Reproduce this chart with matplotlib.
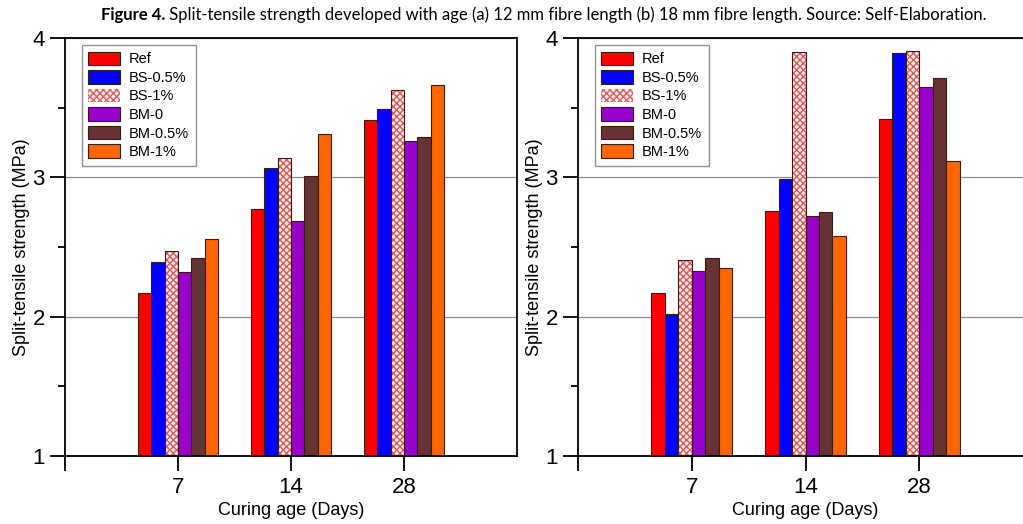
import matplotlib
matplotlib.use("Agg")
import matplotlib.pyplot as plt
import numpy as np

# curing ages (x categories) and mix labels
ages = ["7", "14", "28"]
mixes = ["Ref", "BS-0.5%", "BS-1%", "BM-0", "BM-0.5%", "BM-1%"]

# (a) 12 mm fibre length, MPa
ref_12 = [2.17, 2.77, 3.41]
bs05_12 = [2.39, 3.07, 3.49]
bs1_12 = [2.47, 3.14, 3.63]
bm0_12 = [2.32, 2.69, 3.26]
bm05_12 = [2.42, 3.01, 3.29]
bm1_12 = [2.56, 3.31, 3.66]

# (b) 18 mm fibre length, MPa
ref_18 = [2.17, 2.76, 3.42]
bs05_18 = [2.02, 2.99, 3.89]
bs1_18 = [2.41, 3.90, 3.91]
bm0_18 = [2.33, 2.72, 3.65]
bm05_18 = [2.42, 2.75, 3.71]
bm1_18 = [2.35, 2.58, 3.12]

colors = ["#ff0000", "#0000ff", None, "#9900cc", "#663333", "#ff6600"]
EDGE = "#3a1a10"
TICK_FONT = ["Liberation Sans Narrow", "Liberation Sans", "DejaVu Sans"]
LABEL_FONT = ["Liberation Sans", "DejaVu Sans"]

plt.rcParams["hatch.linewidth"] = 1.0


def draw_panel(ax, series):
    x = np.arange(1, len(ages) + 1)
    w = 0.118
    ax.set_axisbelow(True)
    ax.yaxis.grid(True, color="#888888", linewidth=0.9)
    for i, (name, vals) in enumerate(zip(mixes, series)):
        pos = x + (i - 2.5) * w
        vals = np.array(vals)
        if colors[i] is None:
            # checkered fill, then the dark outline on top
            ax.bar(pos, vals - 1, w, bottom=1, color="#fbeaea", edgecolor="#d85c5c",
                   hatch="xxxxx", linewidth=0, label=name, zorder=2)
            ax.bar(pos, vals - 1, w, bottom=1, fill=False, edgecolor=EDGE,
                   linewidth=0.8, zorder=3)
        else:
            ax.bar(pos, vals - 1, w, bottom=1, color=colors[i], edgecolor=EDGE,
                   linewidth=0.8, label=name, zorder=2)

    ax.set_xlim(0, 4)
    ax.set_ylim(1, 4)
    ax.set_xticks([0, 1, 2, 3])
    ax.set_xticklabels([""] + ages)
    ax.set_yticks([1, 2, 3, 4])
    ax.set_yticks([1.5, 2.5, 3.5], minor=True)
    ax.tick_params(axis="both", which="major", direction="out", length=11, width=1.3)
    ax.tick_params(axis="y", which="minor", direction="out", length=5, width=1.3)
    ax.tick_params(axis="x", pad=4)
    for lab in ax.get_xticklabels() + ax.get_yticklabels():
        lab.set_family(TICK_FONT)
        lab.set_fontsize(16)
    for s in ax.spines.values():
        s.set_linewidth(1.3)

    ax.set_xlabel("Curing age (Days)", family=LABEL_FONT, fontsize=13, labelpad=3)
    ax.set_ylabel("Split-tensile strength (MPa)", family=LABEL_FONT, fontsize=13, labelpad=2)

    leg = ax.legend(loc="upper left", bbox_to_anchor=(0.037, 0.983), borderaxespad=0,
                    prop={"family": LABEL_FONT, "size": 10.5}, fancybox=False,
                    handlelength=2.2, handleheight=1.05, labelspacing=0.26,
                    handletextpad=0.6, borderpad=0.45)
    leg.get_frame().set_edgecolor("#777777")
    leg.get_frame().set_linewidth(1.0)


fig = plt.figure(figsize=(10.23, 5.24), dpi=100)
ax1 = fig.add_axes([65 / 1023, 68 / 524, 452 / 1023, 418 / 524])
ax2 = fig.add_axes([578 / 1023, 68 / 524, 455 / 1023, 418 / 524])

draw_panel(ax1, [ref_12, bs05_12, bs1_12, bm0_12, bm05_12, bm1_12])
draw_panel(ax2, [ref_18, bs05_18, bs1_18, bm0_18, bm05_18, bm1_18])

# caption: bold lead-in, then the rest right after it
t1 = fig.text(101 / 1023, 1 - 20 / 524, "Figure 4.", fontsize=12, fontweight="bold",
              family=["Lato", "DejaVu Sans"], va="baseline", ha="left")
ax1.annotate(" Split-tensile strength developed with age (a) 12 mm fibre length "
             "(b) 18 mm fibre length. Source: Self-Elaboration.",
             xy=(1, 0), xycoords=t1, va="bottom", ha="left", fontsize=12,
             family=["Lato", "DejaVu Sans"], annotation_clip=False)

fig.savefig("out.png", dpi=100)
